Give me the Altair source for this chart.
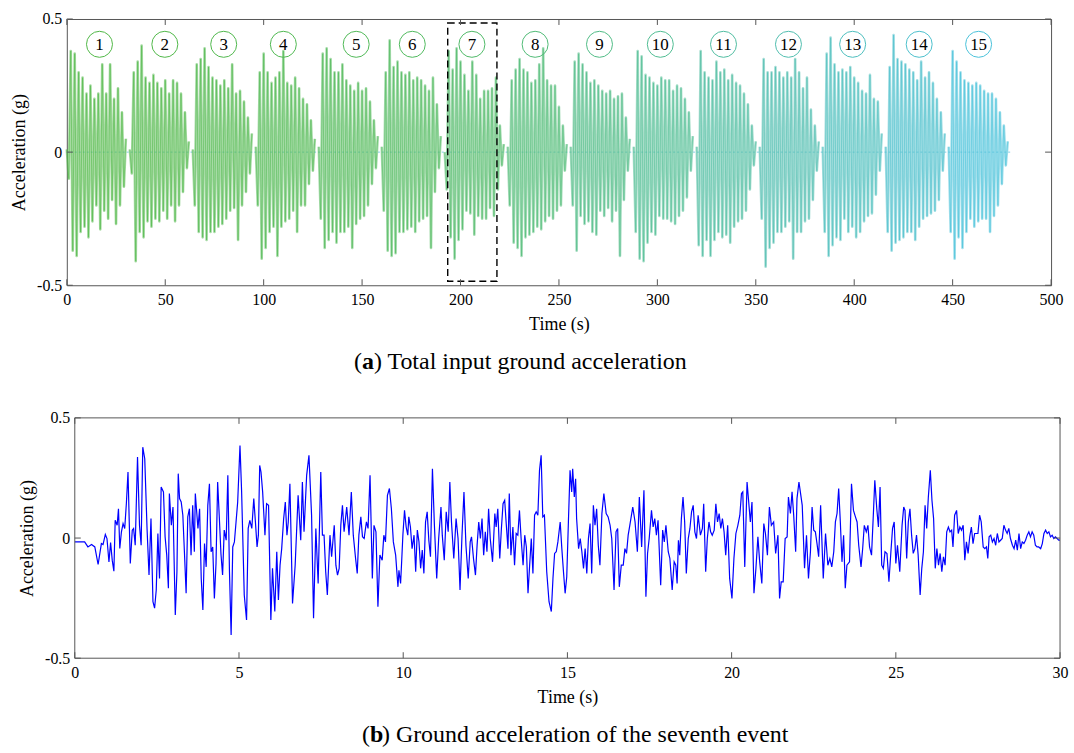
import altair as alt
import pandas as pd

FONT = "Liberation Serif"

# ---------------- Panel (a): 15 events ----------------
event_ids = [1, 2, 3, 4, 5, 6, 7, 8, 9, 10, 11, 12, 13, 14, 15]
event_starts = [0, 32, 64, 96, 128, 160, 192, 224, 256, 288, 320, 352, 384, 416, 448]
event_colors = ["#50b846", "#50b849", "#50b84d", "#50b952", "#50b957", "#50ba5e",
                "#50ba68", "#50bb76", "#50bc86", "#50bd93", "#50bda1", "#50beaf",
                "#4ebfbe", "#4cc0cc", "#4ac2da"]
# positive peaks at 0,2,...,30 s into each event
a_upper = [
    [0.01, 0.38, 0.37, 0.30, 0.28, 0.22, 0.25, 0.20, 0.22, 0.33, 0.22, 0.33, 0.20, 0.24, 0.15, 0.05],
    [0.01, 0.30, 0.34, 0.40, 0.28, 0.26, 0.29, 0.26, 0.24, 0.27, 0.22, 0.27, 0.26, 0.22, 0.15, 0.04],
    [0.01, 0.33, 0.35, 0.39, 0.32, 0.28, 0.27, 0.25, 0.27, 0.24, 0.33, 0.22, 0.23, 0.19, 0.13, 0.07],
    [0.02, 0.30, 0.37, 0.30, 0.26, 0.28, 0.30, 0.38, 0.26, 0.25, 0.28, 0.24, 0.20, 0.18, 0.12, 0.05],
    [0.02, 0.37, 0.39, 0.35, 0.30, 0.30, 0.33, 0.27, 0.25, 0.23, 0.26, 0.23, 0.24, 0.19, 0.12, 0.06],
    [0.02, 0.30, 0.42, 0.32, 0.34, 0.30, 0.29, 0.30, 0.27, 0.28, 0.27, 0.25, 0.23, 0.28, 0.18, 0.06],
    [0.00, 0.38, 0.31, 0.39, 0.34, 0.29, 0.23, 0.34, 0.29, 0.20, 0.23, 0.23, 0.24, 0.28, 0.10, 0.03],
    [0.02, 0.27, 0.31, 0.35, 0.31, 0.30, 0.26, 0.27, 0.33, 0.39, 0.27, 0.25, 0.25, 0.17, 0.10, 0.03],
    [0.02, 0.34, 0.37, 0.33, 0.30, 0.26, 0.27, 0.25, 0.23, 0.22, 0.23, 0.20, 0.21, 0.22, 0.13, 0.05],
    [0.02, 0.38, 0.36, 0.29, 0.28, 0.26, 0.25, 0.28, 0.27, 0.27, 0.23, 0.25, 0.24, 0.20, 0.15, 0.06],
    [0.02, 0.38, 0.30, 0.28, 0.27, 0.34, 0.30, 0.31, 0.27, 0.29, 0.26, 0.25, 0.22, 0.18, 0.10, 0.04],
    [0.02, 0.35, 0.30, 0.30, 0.32, 0.30, 0.28, 0.30, 0.28, 0.35, 0.30, 0.24, 0.28, 0.16, 0.10, 0.04],
    [0.02, 0.37, 0.43, 0.33, 0.30, 0.31, 0.30, 0.32, 0.28, 0.26, 0.23, 0.22, 0.29, 0.20, 0.19, 0.07],
    [0.02, 0.32, 0.44, 0.35, 0.34, 0.33, 0.31, 0.30, 0.27, 0.34, 0.28, 0.30, 0.26, 0.20, 0.15, 0.07],
    [0.02, 0.38, 0.34, 0.30, 0.27, 0.26, 0.25, 0.26, 0.25, 0.23, 0.22, 0.22, 0.20, 0.15, 0.10, 0.04],
]
# negative peaks at 1,3,...,29 s into each event
a_lower = [
    [-0.10, -0.37, -0.39, -0.30, -0.28, -0.32, -0.26, -0.20, -0.29, -0.22, -0.25, -0.18, -0.27, -0.20, -0.13],
    [-0.08, -0.41, -0.30, -0.32, -0.26, -0.28, -0.25, -0.26, -0.22, -0.25, -0.20, -0.26, -0.20, -0.15, -0.06],
    [-0.20, -0.30, -0.32, -0.33, -0.30, -0.30, -0.28, -0.27, -0.25, -0.22, -0.21, -0.33, -0.20, -0.15, -0.08],
    [-0.20, -0.40, -0.36, -0.30, -0.28, -0.39, -0.28, -0.26, -0.25, -0.22, -0.30, -0.20, -0.20, -0.12, -0.07],
    [-0.25, -0.36, -0.33, -0.30, -0.34, -0.30, -0.30, -0.28, -0.36, -0.27, -0.25, -0.24, -0.20, -0.12, -0.06],
    [-0.22, -0.37, -0.39, -0.38, -0.30, -0.30, -0.29, -0.28, -0.30, -0.26, -0.25, -0.24, -0.36, -0.15, -0.06],
    [-0.14, -0.32, -0.40, -0.33, -0.29, -0.22, -0.23, -0.31, -0.24, -0.25, -0.25, -0.21, -0.24, -0.14, -0.05],
    [-0.20, -0.34, -0.36, -0.39, -0.32, -0.31, -0.30, -0.28, -0.29, -0.26, -0.24, -0.25, -0.22, -0.20, -0.07],
    [-0.20, -0.37, -0.24, -0.27, -0.26, -0.30, -0.31, -0.22, -0.24, -0.21, -0.26, -0.22, -0.39, -0.18, -0.07],
    [-0.30, -0.40, -0.41, -0.34, -0.30, -0.31, -0.24, -0.25, -0.25, -0.26, -0.27, -0.24, -0.22, -0.17, -0.07],
    [-0.35, -0.39, -0.33, -0.39, -0.33, -0.30, -0.32, -0.31, -0.34, -0.28, -0.26, -0.25, -0.22, -0.14, -0.05],
    [-0.25, -0.43, -0.36, -0.34, -0.30, -0.30, -0.28, -0.26, -0.40, -0.30, -0.30, -0.26, -0.25, -0.18, -0.07],
    [-0.30, -0.39, -0.35, -0.32, -0.33, -0.25, -0.30, -0.28, -0.32, -0.30, -0.26, -0.24, -0.23, -0.16, -0.07],
    [-0.30, -0.37, -0.34, -0.33, -0.32, -0.30, -0.30, -0.33, -0.28, -0.25, -0.24, -0.23, -0.22, -0.18, -0.07],
    [-0.30, -0.40, -0.32, -0.36, -0.30, -0.25, -0.28, -0.26, -0.25, -0.25, -0.30, -0.24, -0.20, -0.12, -0.05],
]
label_times = [16.6, 49.8, 79.7, 110.0, 147.0, 175.5, 205.8, 237.9, 270.6, 301.5, 333.6, 366.6, 399.2, 433.0, 463.2]
label_level = 0.405
box_t = [193.5, 218.5]
box_acc = [-0.485, 0.485]
zero_span = [0, 480]
a_xticks = [0, 50, 100, 150, 200, 250, 300, 350, 400, 450, 500]
y_ticks = [-0.5, 0, 0.5]

# ---------------- Panel (b): seventh event ----------------
b_seg1 = [(0.00, -0.016), (0.30, -0.016), (0.40, -0.037), (0.51, -0.027), (0.61, -0.037), (0.71, -0.110),
          (0.81, -0.023), (0.86, -0.027), (0.93, 0.015), (0.98, -0.002), (1.04, -0.099), (1.09, -0.019),
          (1.14, -0.092), (1.19, -0.138), (1.23, 0.074), (1.29, 0.053), (1.33, 0.122), (1.37, -0.043),
          (1.42, 0.026), (1.47, 0.060), (1.52, 0.040), (1.57, 0.143), (1.62, 0.275), (1.69, -0.106),
          (1.75, 0.033), (1.79, 0.040), (1.84, -0.030), (1.91, 0.337), (1.97, 0.053), (2.02, -0.030),
          (2.07, 0.378), (2.13, 0.330), (2.20, 0.040), (2.26, -0.154), (2.32, 0.081), (2.38, -0.265),
          (2.43, -0.292), (2.48, -0.216), (2.53, 0.019), (2.58, -0.168), (2.63, 0.212), (2.70, 0.192),
          (2.75, 0.005), (2.80, -0.071), (2.85, -0.209), (2.88, 0.185), (2.94, 0.053), (2.99, 0.129),
          (3.06, -0.320), (3.11, -0.140), (3.15, 0.268), (3.19, 0.164), (3.24, 0.150), (3.29, 0.095),
          (3.34, -0.064), (3.39, -0.230), (3.44, 0.088), (3.49, 0.122), (3.54, -0.071), (3.59, 0.136),
          (3.64, -0.057), (3.67, 0.185), (3.75, 0.040), (3.80, 0.122), (3.85, -0.168), (3.90, -0.299),
          (3.95, -0.023), (4.00, -0.120), (4.05, 0.136), (4.10, 0.226), (4.15, -0.057), (4.20, -0.037),
          (4.25, -0.251), (4.30, -0.106), (4.35, 0.233), (4.40, 0.088), (4.45, -0.064), (4.50, -0.154),
          (4.55, 0.033), (4.61, -0.009), (4.66, 0.261), (4.71, -0.140), (4.76, -0.403), (4.81, -0.037)]
b_seg2 = [(4.86, -0.016), (4.91, 0.067), (4.96, 0.150), (5.03, 0.385), (5.08, 0.192), (5.16, -0.237),
          (5.23, -0.341), (5.28, 0.040), (5.33, 0.074), (5.39, 0.040), (5.45, 0.164), (5.50, 0.067),
          (5.55, -0.037), (5.59, 0.012), (5.63, 0.302), (5.67, 0.275), (5.72, 0.192), (5.79, 0.012),
          (5.84, 0.143), (5.90, 0.136), (5.97, -0.341), (6.02, -0.126), (6.09, -0.306), (6.15, -0.057),
          (6.20, -0.258), (6.25, -0.113), (6.30, -0.044), (6.36, 0.081), (6.41, 0.150), (6.46, 0.012),
          (6.50, 0.067), (6.55, 0.226), (6.63, -0.272), (6.71, -0.113), (6.80, 0.178), (6.88, -0.009),
          (6.93, 0.233), (6.98, 0.026), (7.06, 0.261), (7.13, 0.344), (7.21, 0.095), (7.27, -0.334),
          (7.34, 0.040), (7.41, -0.189), (7.49, 0.275), (7.54, 0.012), (7.59, 0.012), (7.64, -0.140),
          (7.69, -0.237), (7.77, 0.012), (7.82, -0.078), (7.90, 0.053), (7.95, -0.113), (8.00, -0.154),
          (8.05, -0.126), (8.10, 0.053), (8.15, 0.136), (8.20, 0.026), (8.28, 0.129), (8.35, 0.012),
          (8.42, 0.192), (8.48, 0.012), (8.55, -0.085), (8.60, -0.147), (8.65, 0.012), (8.71, 0.088),
          (8.76, 0.005), (8.81, -0.002), (8.88, 0.067), (8.93, 0.040), (8.99, 0.261), (9.06, -0.168),
          (9.11, 0.053), (9.17, 0.026), (9.23, -0.286), (9.29, -0.071), (9.36, -0.092), (9.41, 0.012),
          (9.46, -0.016), (9.52, 0.178), (9.58, 0.206), (9.64, 0.122), (9.70, -0.016), (9.77, -0.071),
          (9.84, -0.203)]
b_seg3 = [(9.87, -0.134), (9.92, -0.189), (9.95, -0.106), (9.99, 0.012), (10.04, 0.115), (10.09, 0.046),
          (10.14, 0.012), (10.17, 0.088), (10.22, 0.046), (10.27, -0.044), (10.33, 0.012), (10.38, -0.140),
          (10.43, 0.033), (10.48, -0.016), (10.53, -0.126), (10.58, -0.050), (10.63, -0.147), (10.68, 0.067),
          (10.73, 0.109), (10.78, -0.009), (10.83, -0.078), (10.89, 0.288), (10.95, 0.053), (11.02, -0.168),
          (11.08, -0.002), (11.15, 0.129), (11.19, 0.012), (11.25, -0.092), (11.31, 0.109), (11.37, 0.026),
          (11.42, 0.233), (11.47, 0.067), (11.54, -0.085), (11.61, 0.081), (11.67, -0.002), (11.73, -0.216),
          (11.79, 0.012), (11.85, 0.192), (11.91, -0.030), (11.98, -0.168), (12.04, -0.016), (12.08, 0.005),
          (12.14, -0.085), (12.20, -0.154), (12.25, -0.030), (12.30, 0.067), (12.35, -0.002), (12.40, 0.081),
          (12.45, -0.071), (12.50, 0.026), (12.55, -0.057), (12.60, 0.122), (12.65, -0.002), (12.72, -0.099),
          (12.79, 0.102), (12.83, 0.046), (12.88, 0.122), (12.94, -0.085), (12.99, 0.040), (13.04, 0.143),
          (13.09, 0.157), (13.14, 0.053), (13.19, -0.044), (13.23, 0.185), (13.28, -0.071), (13.34, 0.046),
          (13.39, -0.113), (13.44, 0.019), (13.49, 0.012), (13.54, 0.115), (13.59, -0.002), (13.65, -0.113),
          (13.70, 0.012), (13.75, -0.037), (13.80, -0.230), (13.85, -0.113), (13.90, -0.002), (13.95, -0.147),
          (14.00, 0.095), (14.05, 0.109), (14.10, 0.095), (14.15, 0.282), (14.20, 0.344), (14.25, 0.088),
          (14.30, 0.095), (14.37, -0.140), (14.44, -0.265), (14.51, -0.306), (14.56, -0.168), (14.61, -0.064),
          (14.66, -0.057), (14.71, -0.016), (14.78, 0.067), (14.83, -0.044)]
b_seg4 = [(14.88, -0.140), (14.93, -0.230), (14.98, -0.161), (15.03, 0.067), (15.08, 0.282), (15.13, 0.192),
          (15.16, 0.288), (15.21, 0.171), (15.25, 0.247), (15.28, 0.081), (15.34, -0.044), (15.39, -0.002),
          (15.44, -0.057), (15.49, -0.126), (15.54, -0.044), (15.59, -0.147), (15.64, -0.002), (15.69, 0.060),
          (15.74, -0.147), (15.79, 0.136), (15.84, 0.053), (15.89, 0.122), (15.94, -0.030), (15.99, -0.113),
          (16.05, 0.102), (16.11, 0.185), (16.18, 0.102), (16.24, 0.088), (16.30, 0.053), (16.35, -0.002),
          (16.42, -0.216), (16.48, 0.026), (16.53, 0.040), (16.58, -0.203), (16.64, -0.113), (16.70, -0.113),
          (16.75, -0.044), (16.80, -0.064), (16.85, 0.012), (16.90, 0.053), (16.99, 0.129), (17.06, 0.067),
          (17.13, -0.057), (17.19, 0.171), (17.26, -0.037), (17.33, 0.199), (17.39, -0.244), (17.44, -0.064),
          (17.49, -0.002), (17.56, 0.115), (17.61, 0.046), (17.66, 0.081), (17.71, 0.012), (17.76, 0.074),
          (17.84, -0.196), (17.90, 0.033), (17.95, -0.016), (18.00, 0.053), (18.07, -0.057), (18.12, -0.085),
          (18.19, -0.216), (18.25, -0.099), (18.30, -0.113), (18.34, -0.189), (18.38, -0.009), (18.42, -0.071),
          (18.47, 0.081), (18.52, 0.171), (18.57, 0.067), (18.62, -0.147), (18.68, -0.002), (18.73, 0.040),
          (18.78, 0.109), (18.83, 0.136), (18.88, 0.026), (18.93, -0.002), (18.98, 0.095), (19.05, 0.012),
          (19.11, 0.040), (19.15, 0.143), (19.21, -0.140), (19.26, -0.002), (19.31, 0.067), (19.36, 0.026),
          (19.41, 0.012), (19.47, 0.033), (19.52, 0.143), (19.57, 0.067), (19.62, 0.102), (19.67, 0.040),
          (19.72, 0.081), (19.77, 0.026), (19.82, -0.071), (19.88, 0.053)]
b_seg5 = [(19.94, -0.168), (20.01, -0.251), (20.07, -0.085), (20.13, 0.019), (20.19, 0.053), (20.25, 0.095),
          (20.30, 0.185), (20.34, 0.192), (20.40, -0.120), (20.47, 0.233), (20.52, 0.150), (20.57, 0.067),
          (20.62, 0.150), (20.68, -0.230), (20.74, -0.126), (20.80, 0.005), (20.85, -0.092), (20.92, -0.189),
          (20.98, 0.060), (21.03, 0.019), (21.09, -0.071), (21.15, 0.129), (21.21, 0.053), (21.28, 0.067),
          (21.34, -0.064), (21.41, 0.012), (21.46, -0.251), (21.51, -0.182), (21.57, -0.182), (21.63, -0.002),
          (21.69, 0.005), (21.73, 0.171), (21.79, 0.102), (21.84, 0.192), (21.89, 0.095), (21.95, -0.057),
          (21.99, 0.164), (22.05, 0.233), (22.10, 0.185), (22.15, 0.136), (22.22, -0.126), (22.28, 0.012),
          (22.34, -0.168), (22.40, -0.057), (22.45, 0.129), (22.50, 0.033), (22.55, 0.026), (22.60, -0.023),
          (22.65, -0.078), (22.71, 0.136), (22.79, -0.168), (22.86, 0.019), (22.93, -0.113), (22.99, -0.085),
          (23.05, -0.120), (23.11, -0.057), (23.16, 0.067), (23.21, 0.102), (23.26, 0.206), (23.31, 0.067),
          (23.36, -0.099), (23.41, 0.012), (23.46, -0.209), (23.51, -0.113), (23.59, -0.099), (23.65, 0.226),
          (23.71, 0.115), (23.77, 0.088), (23.82, 0.067), (23.87, -0.030), (23.94, -0.120), (23.99, -0.044),
          (24.04, 0.053), (24.10, 0.026), (24.15, 0.053), (24.20, -0.037), (24.26, -0.071), (24.31, 0.081),
          (24.36, 0.240), (24.42, 0.122), (24.47, 0.046), (24.52, 0.212), (24.57, -0.113), (24.62, -0.126),
          (24.67, -0.057), (24.73, -0.064), (24.79, -0.182), (24.85, -0.057)]
b_seg6 = [(24.90, 0.040), (24.95, 0.067), (25.00, -0.106), (25.05, -0.030), (25.12, -0.140), (25.19, 0.053),
          (25.24, 0.129), (25.28, 0.115), (25.33, -0.085), (25.38, 0.067), (25.43, 0.122), (25.48, 0.012),
          (25.53, -0.064), (25.58, -0.044), (25.63, 0.012), (25.68, -0.071), (25.74, -0.237), (25.79, -0.126),
          (25.84, -0.057), (25.89, 0.136), (25.94, 0.040), (25.99, 0.171), (26.05, 0.282), (26.10, 0.157),
          (26.15, 0.081), (26.20, -0.126), (26.25, -0.044), (26.30, -0.113), (26.35, -0.064), (26.40, -0.140),
          (26.45, -0.078), (26.50, -0.113), (26.55, 0.026), (26.60, 0.046), (26.65, 0.026), (26.70, 0.033),
          (26.74, -0.037), (26.79, 0.095), (26.85, 0.115), (26.90, 0.019), (26.95, 0.046), (27.00, 0.033),
          (27.05, 0.053), (27.10, -0.092), (27.15, -0.016), (27.20, -0.064), (27.25, 0.005), (27.30, 0.046),
          (27.35, -0.023), (27.40, 0.019), (27.45, 0.019), (27.50, 0.019), (27.55, 0.095), (27.60, 0.067),
          (27.66, -0.037), (27.71, -0.044), (27.76, -0.037), (27.80, -0.085), (27.84, 0.005), (27.89, 0.012),
          (27.94, -0.016), (27.99, -0.002), (28.04, -0.030), (28.09, 0.019), (28.14, -0.016), (28.19, -0.009),
          (28.24, -0.002), (28.29, 0.053), (28.34, 0.033), (28.39, 0.019), (28.44, 0.040), (28.49, -0.002),
          (28.55, -0.030), (28.60, -0.044), (28.65, -0.009), (28.70, -0.050), (28.75, 0.019), (28.80, -0.044),
          (28.85, -0.016), (28.90, -0.023), (28.95, -0.009), (29.00, 0.012), (29.05, 0.026), (29.10, 0.005),
          (29.15, 0.026), (29.20, 0.012), (29.25, -0.030), (29.30, -0.037), (29.35, -0.037), (29.41, -0.044),
          (29.46, -0.023), (29.51, 0.019), (29.56, 0.033), (29.61, 0.019), (29.66, 0.026), (29.71, 0.005),
          (29.76, 0.012), (29.81, -0.002), (29.86, 0.005), (29.96, -0.009), (30.00, -0.009)]
b_xticks = [0, 5, 10, 15, 20, 25, 30]

# ---------------- tables ----------------
rows = []
for k, ev in enumerate(event_ids):
    for i in range(31):
        val = a_upper[k][i // 2] if i % 2 == 0 else a_lower[k][i // 2]
        rows.append({"ev": ev, "t": event_starts[k] + i, "acc": val})
df_a = pd.DataFrame(rows)
df_lab = pd.DataFrame({"ev": event_ids, "t": label_times, "acc": [label_level] * len(event_ids)})
df_box = pd.DataFrame({"t": [box_t[0]], "t2": [box_t[1]], "acc": [box_acc[0]], "acc2": [box_acc[1]]})
df_zero = pd.DataFrame({"t": zero_span, "acc": [0, 0]})
df_axt = pd.DataFrame({"t": a_xticks})
df_yt = pd.DataFrame({"acc": y_ticks})
df_one = pd.DataFrame({"s": [0]})

b_all = b_seg1 + b_seg2 + b_seg3 + b_seg4 + b_seg5 + b_seg6
df_b = pd.DataFrame({"t": [p[0] for p in b_all], "acc": [p[1] for p in b_all]})
df_bxt = pd.DataFrame({"t": b_xticks})

WA, HA = 987, 267
BOFF = 8                 # panel (b) plot starts a little to the right
WB, HB = 988 + BOFF, 241
TICK = 6
FRAME = "#555555"
ylab = "datum.value == 0 ? '0' : replace(format(datum.value, '.1f'), '\u2212', '-')"


def xenc(domain, ticks, rng=None):
    sc = alt.Scale(domain=domain, nice=False, zero=False) if rng is None else \
        alt.Scale(domain=domain, nice=False, zero=False, range=rng)
    return alt.X("t:Q", scale=sc,
                 axis=alt.Axis(values=ticks, title="Time (s)", labelFlush=False,
                               labelPadding=6, titlePadding=8))


def yenc(offset=0):
    return alt.Y("acc:Q", scale=alt.Scale(domain=[-0.5, 0.5], nice=False),
                 axis=alt.Axis(values=y_ticks, title="Acceleration (g)", labelExpr=ylab,
                               labelPadding=5, titlePadding=8, offset=offset))


color_ev = alt.Color("ev:N", scale=alt.Scale(domain=event_ids, range=event_colors), legend=None)


def rule(**enc):
    return alt.Chart(df_one).mark_rule(color=FRAME, strokeWidth=1).encode(**enc)


def tick_layers(xtick_df, x0, x1, H):
    bt = alt.Chart(xtick_df).mark_rule(color=FRAME, strokeWidth=1).encode(
        x="t:Q", y=alt.value(H), y2=alt.value(H - TICK))
    tt = alt.Chart(xtick_df).mark_rule(color=FRAME, strokeWidth=1).encode(
        x="t:Q", y=alt.value(0), y2=alt.value(TICK))
    lt = alt.Chart(df_yt).mark_rule(color=FRAME, strokeWidth=1).encode(
        y="acc:Q", x=alt.value(x0), x2=alt.value(x0 + TICK))
    rt = alt.Chart(df_yt).mark_rule(color=FRAME, strokeWidth=1).encode(
        y="acc:Q", x=alt.value(x1), x2=alt.value(x1 - TICK))
    return [bt, tt, lt, rt]


def caption(letter, rest, x_left, y_mid, size=24):
    p1 = alt.Chart(df_one).mark_text(text="(", font=FONT, fontSize=size, align="right", baseline="middle",
                                     color="black").encode(x=alt.value(x_left), y=alt.value(y_mid))
    p2 = alt.Chart(df_one).mark_text(text=letter, font=FONT, fontSize=size, fontWeight="bold", align="left",
                                     baseline="middle", color="black").encode(x=alt.value(x_left), y=alt.value(y_mid))
    p3 = alt.Chart(df_one).mark_text(text=rest, font=FONT, fontSize=size, align="left", baseline="middle",
                                     color="black").encode(x=alt.value(x_left + size * 0.5), y=alt.value(y_mid))
    return [p1, p2, p3]


# ---------- panel (a) ----------
xa = xenc([0, 500], a_xticks)
ya = yenc()

zero_line = alt.Chart(df_zero).mark_line(color="#86cfe6", strokeWidth=1, strokeDash=[2, 2]).encode(x=xa, y=ya)
# broad, translucent trace gives the filled look of the dense record
fill_a = alt.Chart(df_a).mark_line(strokeWidth=2.6, opacity=0.5, strokeJoin="round").encode(
    x=xa, y=ya, color=color_ev)
line_a = alt.Chart(df_a).mark_line(strokeWidth=0.6, opacity=0.95).encode(x=xa, y=ya, color=color_ev)
box = alt.Chart(df_box).mark_rect(fillOpacity=0, stroke="black", strokeWidth=1.4, strokeDash=[7, 4]).encode(
    x=xa, x2="t2:Q", y=ya, y2="acc2:Q")
circ = alt.Chart(df_lab).mark_point(shape="circle", size=680, filled=False, strokeWidth=1, opacity=1).encode(
    x=xa, y=ya, color=color_ev)
circ_txt = alt.Chart(df_lab).mark_text(font=FONT, fontSize=17, color="black", baseline="middle", dy=1).encode(
    x=xa, y=ya, text="ev:N")

panel_a = alt.layer(zero_line, fill_a, line_a, box, circ, circ_txt,
                    *tick_layers(df_axt, 0, WA, HA),
                    *caption("a", ") Total input ground acceleration", 296, 344)
                    ).properties(width=WA, height=HA)

# ---------- panel (b) ----------
xb = xenc([0, 30], b_xticks, rng=[BOFF, WB])
yb = yenc(offset=-BOFF)
line_b = alt.Chart(df_b).mark_line(color="#0000ff", strokeWidth=1.2).encode(x=xb, y=yb)
frame_b = [
    rule(x=alt.value(BOFF), x2=alt.value(WB), y=alt.value(0)),
    rule(x=alt.value(BOFF), x2=alt.value(WB), y=alt.value(HB)),
    rule(x=alt.value(BOFF), y=alt.value(0), y2=alt.value(HB)),
    rule(x=alt.value(WB), y=alt.value(0), y2=alt.value(HB)),
]
panel_b = alt.layer(line_b, *frame_b, *tick_layers(df_bxt, BOFF, WB, HB),
                    *caption("b", ") Ground acceleration of the seventh event", 304, 318)
                    ).properties(width=WB, height=HB,
                                 view=alt.ViewBackground(stroke="transparent"))

chart = alt.vconcat(panel_a, panel_b, spacing=133, bounds="flush").properties(
    padding={"left": 10, "top": 9, "right": 5, "bottom": 5}
).configure_view(stroke=FRAME, strokeWidth=1).configure_axis(
    labelFont=FONT, titleFont=FONT, labelFontSize=16, titleFontSize=18, titleFontWeight="normal",
    labelColor="black", titleColor="black", grid=False, ticks=False, domain=False
)

chart.save("out.html", embed_options={"renderer": "svg", "actions": False})
